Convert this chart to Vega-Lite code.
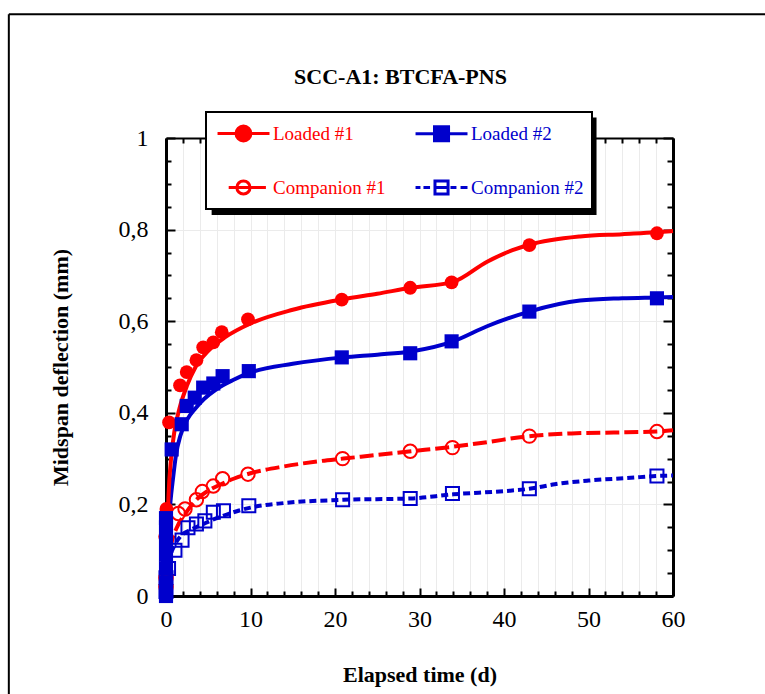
{
  "$schema": "https://vega.github.io/schema/vega-lite/v6.json",
  "width": 507,
  "height": 458,
  "autosize": {"type": "none"},
  "padding": {"left": 166, "top": 138, "right": 92, "bottom": 98},
  "background": "white",
  "config": {"view": {"stroke": null}, "font": "Liberation Serif", "legend": {"strokeWidth": 2}},
  "title": {"text": "SCC-A1: BTCFA-PNS", "font": "Liberation Serif", "fontSize": 22, "fontWeight": "bold", "color": "black", "anchor": "middle", "dx": -19, "offset": -76},
  "datasets": {
    "curves": [
      {"series": "Loaded #1", "t": 0, "v": 0},
      {"series": "Loaded #1", "t": 0.1, "v": 0.1},
      {"series": "Loaded #1", "t": 0.3, "v": 0.22},
      {"series": "Loaded #1", "t": 0.6, "v": 0.3},
      {"series": "Loaded #1", "t": 1, "v": 0.36},
      {"series": "Loaded #1", "t": 1.6, "v": 0.41},
      {"series": "Loaded #1", "t": 2.5, "v": 0.46},
      {"series": "Loaded #1", "t": 3.5, "v": 0.5},
      {"series": "Loaded #1", "t": 5, "v": 0.535},
      {"series": "Loaded #1", "t": 7, "v": 0.565},
      {"series": "Loaded #1", "t": 10, "v": 0.595},
      {"series": "Loaded #1", "t": 15, "v": 0.625},
      {"series": "Loaded #1", "t": 21, "v": 0.648},
      {"series": "Loaded #1", "t": 25, "v": 0.66},
      {"series": "Loaded #1", "t": 29, "v": 0.673},
      {"series": "Loaded #1", "t": 34, "v": 0.686},
      {"series": "Loaded #1", "t": 38, "v": 0.73},
      {"series": "Loaded #1", "t": 41, "v": 0.755},
      {"series": "Loaded #1", "t": 43, "v": 0.767},
      {"series": "Loaded #1", "t": 49, "v": 0.785},
      {"series": "Loaded #1", "t": 54, "v": 0.79},
      {"series": "Loaded #1", "t": 58, "v": 0.794},
      {"series": "Loaded #1", "t": 60, "v": 0.797},
      {"series": "Loaded #2", "t": 0, "v": 0},
      {"series": "Loaded #2", "t": 0.2, "v": 0.12},
      {"series": "Loaded #2", "t": 0.5, "v": 0.2},
      {"series": "Loaded #2", "t": 0.85, "v": 0.26},
      {"series": "Loaded #2", "t": 1.2, "v": 0.31},
      {"series": "Loaded #2", "t": 1.7, "v": 0.35},
      {"series": "Loaded #2", "t": 2.5, "v": 0.385},
      {"series": "Loaded #2", "t": 3.5, "v": 0.41},
      {"series": "Loaded #2", "t": 4.5, "v": 0.43},
      {"series": "Loaded #2", "t": 6, "v": 0.452},
      {"series": "Loaded #2", "t": 8, "v": 0.472},
      {"series": "Loaded #2", "t": 10, "v": 0.488},
      {"series": "Loaded #2", "t": 15, "v": 0.507},
      {"series": "Loaded #2", "t": 21, "v": 0.521},
      {"series": "Loaded #2", "t": 25, "v": 0.527},
      {"series": "Loaded #2", "t": 29, "v": 0.534},
      {"series": "Loaded #2", "t": 34, "v": 0.556},
      {"series": "Loaded #2", "t": 38, "v": 0.589},
      {"series": "Loaded #2", "t": 43, "v": 0.621},
      {"series": "Loaded #2", "t": 49, "v": 0.645},
      {"series": "Loaded #2", "t": 54, "v": 0.65},
      {"series": "Loaded #2", "t": 58, "v": 0.652},
      {"series": "Loaded #2", "t": 60, "v": 0.653},
      {"series": "Companion #1", "t": 0, "v": 0.02},
      {"series": "Companion #1", "t": 0.3, "v": 0.08},
      {"series": "Companion #1", "t": 0.7, "v": 0.12},
      {"series": "Companion #1", "t": 1.3, "v": 0.15},
      {"series": "Companion #1", "t": 2.3, "v": 0.18},
      {"series": "Companion #1", "t": 3.7, "v": 0.212},
      {"series": "Companion #1", "t": 5, "v": 0.23},
      {"series": "Companion #1", "t": 6.5, "v": 0.244},
      {"series": "Companion #1", "t": 8, "v": 0.256},
      {"series": "Companion #1", "t": 10, "v": 0.268},
      {"series": "Companion #1", "t": 14, "v": 0.283},
      {"series": "Companion #1", "t": 18, "v": 0.294},
      {"series": "Companion #1", "t": 21, "v": 0.3},
      {"series": "Companion #1", "t": 25, "v": 0.308},
      {"series": "Companion #1", "t": 29, "v": 0.316},
      {"series": "Companion #1", "t": 34, "v": 0.326},
      {"series": "Companion #1", "t": 38, "v": 0.336},
      {"series": "Companion #1", "t": 43, "v": 0.349},
      {"series": "Companion #1", "t": 48, "v": 0.355},
      {"series": "Companion #1", "t": 53, "v": 0.357},
      {"series": "Companion #1", "t": 58, "v": 0.359},
      {"series": "Companion #1", "t": 60, "v": 0.362},
      {"series": "Companion #2", "t": 0, "v": 0},
      {"series": "Companion #2", "t": 0.2, "v": 0.05},
      {"series": "Companion #2", "t": 0.5, "v": 0.085},
      {"series": "Companion #2", "t": 1, "v": 0.11},
      {"series": "Companion #2", "t": 1.7, "v": 0.13},
      {"series": "Companion #2", "t": 3, "v": 0.145},
      {"series": "Companion #2", "t": 4.4, "v": 0.157},
      {"series": "Companion #2", "t": 6, "v": 0.17},
      {"series": "Companion #2", "t": 7.5, "v": 0.18},
      {"series": "Companion #2", "t": 10, "v": 0.193},
      {"series": "Companion #2", "t": 14, "v": 0.203},
      {"series": "Companion #2", "t": 21, "v": 0.21},
      {"series": "Companion #2", "t": 29, "v": 0.213},
      {"series": "Companion #2", "t": 34, "v": 0.222},
      {"series": "Companion #2", "t": 40, "v": 0.229},
      {"series": "Companion #2", "t": 43, "v": 0.234},
      {"series": "Companion #2", "t": 46, "v": 0.244},
      {"series": "Companion #2", "t": 50, "v": 0.252},
      {"series": "Companion #2", "t": 55, "v": 0.258},
      {"series": "Companion #2", "t": 58, "v": 0.262},
      {"series": "Companion #2", "t": 60, "v": 0.263}
    ],
    "markers": [
      {"series": "Companion #2", "t": 0, "v": 0.01},
      {"series": "Companion #2", "t": 0, "v": 0.04},
      {"series": "Companion #2", "t": 0.3, "v": 0.06},
      {"series": "Companion #2", "t": 1.06, "v": 0.1},
      {"series": "Companion #2", "t": 1.9, "v": 0.122},
      {"series": "Companion #2", "t": 2.6, "v": 0.149},
      {"series": "Companion #2", "t": 3.6, "v": 0.157},
      {"series": "Companion #2", "t": 4.6, "v": 0.164},
      {"series": "Companion #2", "t": 5.6, "v": 0.183},
      {"series": "Companion #2", "t": 6.8, "v": 0.186},
      {"series": "Companion #2", "t": 9.8, "v": 0.197},
      {"series": "Companion #2", "t": 20.9, "v": 0.21},
      {"series": "Companion #2", "t": 28.9, "v": 0.213},
      {"series": "Companion #2", "t": 33.9, "v": 0.224},
      {"series": "Companion #2", "t": 43, "v": 0.234},
      {"series": "Companion #2", "t": 58.1, "v": 0.262},
      {"series": "Companion #1", "t": 0, "v": 0.02},
      {"series": "Companion #1", "t": 0, "v": 0.04},
      {"series": "Companion #1", "t": 0, "v": 0.13},
      {"series": "Companion #1", "t": 1.46, "v": 0.18},
      {"series": "Companion #1", "t": 2.25, "v": 0.19},
      {"series": "Companion #1", "t": 3.6, "v": 0.21},
      {"series": "Companion #1", "t": 4.3, "v": 0.228},
      {"series": "Companion #1", "t": 5.6, "v": 0.24},
      {"series": "Companion #1", "t": 6.7, "v": 0.256},
      {"series": "Companion #1", "t": 9.7, "v": 0.266},
      {"series": "Companion #1", "t": 20.9, "v": 0.3},
      {"series": "Companion #1", "t": 28.9, "v": 0.316},
      {"series": "Companion #1", "t": 33.9, "v": 0.324},
      {"series": "Companion #1", "t": 43, "v": 0.349},
      {"series": "Companion #1", "t": 58.1, "v": 0.359},
      {"series": "Loaded #1", "t": 0, "v": 0.0},
      {"series": "Loaded #1", "t": 0, "v": 0.03},
      {"series": "Loaded #1", "t": 0, "v": 0.13},
      {"series": "Loaded #1", "t": 0.05, "v": 0.19},
      {"series": "Loaded #1", "t": 0.36, "v": 0.379},
      {"series": "Loaded #1", "t": 1.66, "v": 0.46},
      {"series": "Loaded #1", "t": 2.45, "v": 0.489},
      {"series": "Loaded #1", "t": 3.6, "v": 0.515},
      {"series": "Loaded #1", "t": 4.4, "v": 0.543},
      {"series": "Loaded #1", "t": 5.6, "v": 0.554},
      {"series": "Loaded #1", "t": 6.6, "v": 0.576},
      {"series": "Loaded #1", "t": 9.7, "v": 0.604},
      {"series": "Loaded #1", "t": 20.8, "v": 0.647},
      {"series": "Loaded #1", "t": 28.9, "v": 0.673},
      {"series": "Loaded #1", "t": 33.8, "v": 0.685},
      {"series": "Loaded #1", "t": 43, "v": 0.766},
      {"series": "Loaded #1", "t": 58.1, "v": 0.792},
      {"series": "Loaded #2", "t": 0, "v": 0},
      {"series": "Loaded #2", "t": 0, "v": 0.03},
      {"series": "Loaded #2", "t": 0, "v": 0.06},
      {"series": "Loaded #2", "t": 0, "v": 0.09},
      {"series": "Loaded #2", "t": 0, "v": 0.12},
      {"series": "Loaded #2", "t": 0, "v": 0.15},
      {"series": "Loaded #2", "t": 0, "v": 0.17},
      {"series": "Loaded #2", "t": 0.67, "v": 0.32},
      {"series": "Loaded #2", "t": 1.86, "v": 0.375},
      {"series": "Loaded #2", "t": 2.45, "v": 0.415},
      {"series": "Loaded #2", "t": 3.4, "v": 0.433},
      {"series": "Loaded #2", "t": 4.4, "v": 0.455},
      {"series": "Loaded #2", "t": 5.6, "v": 0.464},
      {"series": "Loaded #2", "t": 6.7, "v": 0.48},
      {"series": "Loaded #2", "t": 9.8, "v": 0.491},
      {"series": "Loaded #2", "t": 20.8, "v": 0.521},
      {"series": "Loaded #2", "t": 28.9, "v": 0.53},
      {"series": "Loaded #2", "t": 33.8, "v": 0.556},
      {"series": "Loaded #2", "t": 43, "v": 0.621},
      {"series": "Loaded #2", "t": 58.1, "v": 0.65}
    ]
  },
  "resolve": {"axis": {"x": "independent", "y": "independent"}},
  "layer": [
    {
      "data": {"name": "curves"},
      "transform": [{"filter": "datum.series === 'Loaded #2'"}],
      "mark": {"type": "line", "strokeWidth": 4, "interpolate": "monotone", "clip": false, "color": "#0000cc"},
      "encoding": {
        "x": {"field": "t", "type": "quantitative", "scale": {"domain": [0, 60], "nice": false, "zero": false},
          "axis": {"orient": "bottom", "title": "Elapsed time (d)",
            "values": [0,2,4,6,8,10,12,14,16,18,20,22,24,26,28,30,32,34,36,38,40,42,44,46,48,50,52,54,56,58,60],
            "labelExpr": "datum.value % 10 === 0 ? datum.label : ''",
            "tickSize": {"condition": {"test": "datum.value % 10 === 0", "value": -8}, "value": -5},
            "tickColor": "black", "tickWidth": 2, "domainColor": "black", "domainWidth": 3,
            "grid": true, "gridColor": "#ebebeb", "gridWidth": 1,
            "labelFont": "Liberation Serif", "labelFontSize": 24, "labelColor": "black", "labelPadding": 19, "labelFlush": false, "labelOverlap": false,
            "titleFont": "Liberation Serif", "titleFontSize": 22, "titleFontWeight": "bold", "titleColor": "black", "titlePadding": 30}},
        "y": {"field": "v", "type": "quantitative", "scale": {"domain": [0, 1], "nice": false, "zero": false},
          "axis": {"orient": "left", "title": "Midspan deflection (mm)",
            "values": [0,0.05,0.1,0.15,0.2,0.25,0.3,0.35,0.4,0.45,0.5,0.55,0.6,0.65,0.7,0.75,0.8,0.85,0.9,0.95,1],
            "labelExpr": "round(datum.value*100) % 20 == 0 ? replace(format(datum.value, '~g'), '.', ',') : ''",
            "tickSize": {"condition": {"test": "round(datum.value*100) % 20 == 0", "value": -9}, "value": -5},
            "tickColor": "black", "tickWidth": 2, "domainColor": "black", "domainWidth": 3,
            "grid": true, "gridColor": "#ebebeb", "gridWidth": 1,
            "gridOpacity": {"condition": {"test": "round(datum.value*100) % 20 == 0", "value": 1}, "value": 0},
            "labelFont": "Liberation Serif", "labelFontSize": 24, "labelColor": "black", "labelPadding": 27, "labelFlush": false, "labelOverlap": false,
            "titleFont": "Liberation Serif", "titleFontSize": 22, "titleFontWeight": "bold", "titleColor": "black", "titlePadding": 46}}
      }
    },
    {
      "data": {"name": "curves"},
      "transform": [{"filter": "datum.series === 'Loaded #1'"}],
      "mark": {"type": "line", "strokeWidth": 4, "interpolate": "monotone", "clip": false, "color": "#ff0000"},
      "encoding": {
        "x": {"field": "t", "type": "quantitative",
          "axis": {"orient": "top", "title": null, "labels": false, "grid": false,
            "values": [0,2,4,6,8,10,12,14,16,18,20,22,24,26,28,30,32,34,36,38,40,42,44,46,48,50,52,54,56,58,60],
            "tickSize": {"condition": {"test": "datum.value % 10 === 0", "value": -8}, "value": -5},
            "tickColor": "black", "tickWidth": 2, "domainColor": "black", "domainWidth": 2}},
        "y": {"field": "v", "type": "quantitative",
          "axis": {"orient": "right", "title": null, "labels": false, "grid": false,
            "values": [0,0.05,0.1,0.15,0.2,0.25,0.3,0.35,0.4,0.45,0.5,0.55,0.6,0.65,0.7,0.75,0.8,0.85,0.9,0.95,1],
            "tickSize": {"condition": {"test": "round(datum.value*100) % 20 == 0", "value": -10}, "value": -6},
            "tickColor": "black", "tickWidth": 2, "domainColor": "black", "domainWidth": 3}}
      }
    },
    {
      "data": {"name": "curves"},
      "transform": [{"filter": "datum.series === 'Companion #1'"}],
      "mark": {"type": "line", "strokeWidth": 4, "interpolate": "monotone", "clip": false, "color": "#ff0000", "strokeDash": [14, 5]},
      "encoding": {
        "x": {"field": "t", "type": "quantitative", "axis": null},
        "y": {"field": "v", "type": "quantitative", "axis": null}
      }
    },
    {
      "data": {"name": "curves"},
      "transform": [{"filter": "datum.series === 'Companion #2'"}],
      "mark": {"type": "line", "strokeWidth": 4, "interpolate": "monotone", "clip": false, "color": "#0000cc", "strokeDash": [7, 4]},
      "encoding": {
        "x": {"field": "t", "type": "quantitative", "axis": null},
        "y": {"field": "v", "type": "quantitative", "axis": null}
      }
    },
    {
      "data": {"name": "markers"},
      "transform": [{"filter": "datum.series === 'Companion #2'"}],
      "mark": {"type": "point", "shape": "square", "size": 170, "strokeWidth": 2, "opacity": 1, "filled": false, "color": "#0000cc", "clip": false},
      "encoding": {
        "x": {"field": "t", "type": "quantitative", "axis": null},
        "y": {"field": "v", "type": "quantitative", "axis": null}
      }
    },
    {
      "data": {"name": "markers"},
      "transform": [{"filter": "datum.series === 'Companion #1'"}],
      "mark": {"type": "point", "shape": "circle", "size": 180, "strokeWidth": 2, "opacity": 1, "filled": false, "color": "#ff0000", "clip": false},
      "encoding": {
        "x": {"field": "t", "type": "quantitative", "axis": null},
        "y": {"field": "v", "type": "quantitative", "axis": null}
      }
    },
    {
      "data": {"name": "markers"},
      "transform": [{"filter": "datum.series === 'Loaded #1'"}],
      "mark": {"type": "point", "shape": "circle", "size": 190, "opacity": 1, "filled": true, "color": "#ff0000", "clip": false},
      "encoding": {
        "x": {"field": "t", "type": "quantitative", "axis": null},
        "y": {"field": "v", "type": "quantitative", "axis": null}
      }
    },
    {
      "data": {"name": "markers"},
      "transform": [{"filter": "datum.series === 'Loaded #2'"}],
      "mark": {"type": "point", "shape": "square", "size": 200, "opacity": 1, "filled": true, "color": "#0000cc", "clip": false},
      "encoding": {
        "x": {"field": "t", "type": "quantitative", "axis": null},
        "y": {"field": "v", "type": "quantitative", "axis": null}
      }
    },
    {
      "data": {"values": [{}]},
      "mark": {"type": "rect", "color": "black", "clip": false},
      "encoding": {
        "x": {"datum": 5.4, "type": "quantitative", "axis": null},
        "x2": {"datum": 50.95},
        "y": {"datum": 1.045, "type": "quantitative", "axis": null},
        "y2": {"datum": 0.832}
      }
    },
    {
      "data": {"name": "markers"},
      "transform": [{"filter": "false"}],
      "mark": {"type": "point", "opacity": 1, "strokeWidth": 3, "clip": false},
      "encoding": {
        "x": {"field": "t", "type": "quantitative", "axis": null},
        "y": {"field": "v", "type": "quantitative", "axis": null},
        "shape": {"field": "series", "type": "nominal",
          "scale": {"domain": ["Loaded #1", "Loaded #2", "Companion #1", "Companion #2"],
            "range": [
              "M-0.83,0H3.5M1.95,0A0.62,0.62,0,1,1,0.71,0A0.62,0.62,0,1,1,1.95,0Z",
              "M-0.83,0H3.5M0.75,-0.58H1.92V0.58H0.75Z",
              "M0.1,0H3.2M1.88,0A0.55,0.55,0,1,1,0.78,0A0.55,0.55,0,1,1,1.88,0Z",
              "M-0.83,0H-0.42M-0.17,0H0.38M0.79,0H1.88M2.08,0H2.58M2.92,0H3.5M0.79,-0.54H1.88V0.54H0.79Z"
            ]},
          "legend": {"orient": "none", "legendX": 40, "legendY": -26, "columns": 2, "direction": "horizontal", "title": null,
            "symbolSize": 576, "symbolStrokeWidth": 3,
            "labelFont": "Liberation Serif", "labelFontSize": 19, "labelOffset": 32, "labelLimit": 300,
            "labelColor": {"expr": "indexof(['Loaded #1','Companion #1'], datum.value) >= 0 ? '#ff0000' : '#0000cc'"},
            "strokeColor": "black", "fillColor": "white", "padding": 8, "rowPadding": 27, "columnPadding": 23}},
        "fill": {"field": "series", "type": "nominal",
          "scale": {"domain": ["Loaded #1", "Loaded #2", "Companion #1", "Companion #2"], "range": ["#ff0000", "#0000cc", "white", "white"]}},
        "stroke": {"field": "series", "type": "nominal",
          "scale": {"domain": ["Loaded #1", "Loaded #2", "Companion #1", "Companion #2"], "range": ["#ff0000", "#0000cc", "#ff0000", "#0000cc"]}}
      }
    },
    {
      "data": {"values": [{}]},
      "mark": {"type": "rule", "color": "black", "strokeWidth": 2, "clip": false},
      "encoding": {
        "x": {"datum": -18.6, "type": "quantitative", "axis": null},
        "y": {"datum": 1.27, "type": "quantitative", "axis": null},
        "y2": {"datum": -0.25}
      }
    },
    {
      "data": {"values": [{}]},
      "mark": {"type": "rule", "color": "black", "strokeWidth": 2, "clip": false},
      "encoding": {
        "x": {"datum": -18.6, "type": "quantitative", "axis": null},
        "x2": {"datum": 75},
        "y": {"datum": 1.27, "type": "quantitative", "axis": null}
      }
    }
  ]
}
